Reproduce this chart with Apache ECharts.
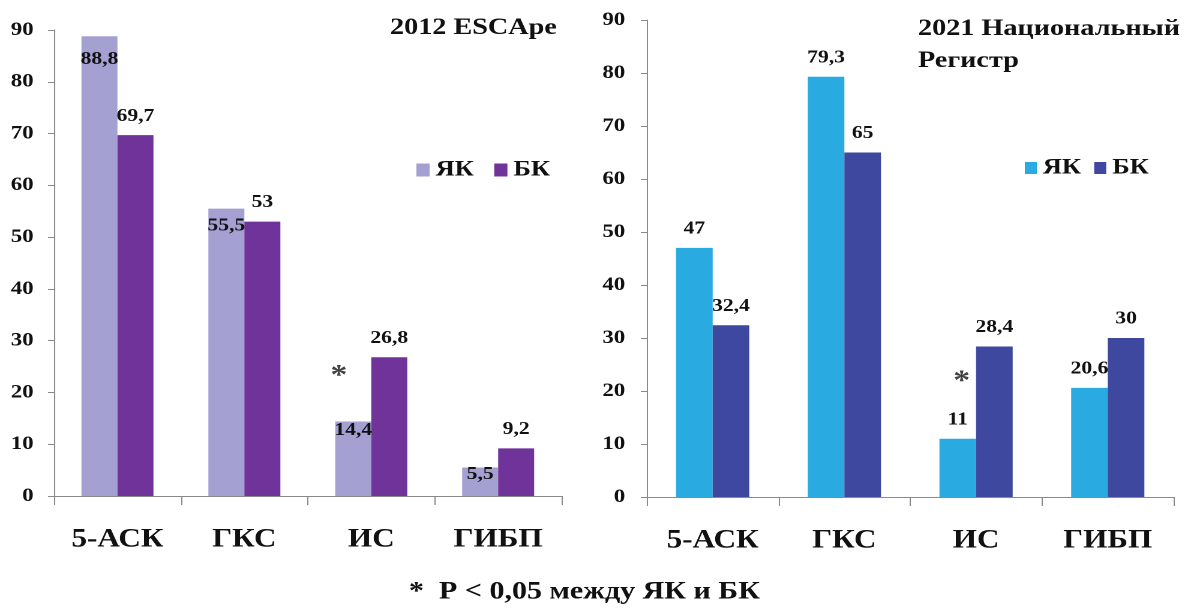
<!DOCTYPE html>
<html>
<head>
<meta charset="utf-8">
<script src="https://cdn.jsdelivr.net/npm/echarts@6/dist/echarts.min.js"></script>
<style>
  html, body { margin: 0; padding: 0; background: #fff; overflow: hidden; }
  /* the figure is drawn at a narrower base width and stretched horizontally */
  #chart { width: 990px; height: 608px; transform: scaleX(1.2); transform-origin: 0 0; }
</style>
</head>
<body>
<div id="chart"></div>
<script>
// Categories of therapy
const categories = ['5-АСК', 'ГКС', 'ИС', 'ГИБП'];

// 2012 ESCApe, %
const escapeUC = [88.8, 55.5, 14.4, 5.5];   // ЯК
const escapeCD = [69.7, 53, 26.8, 9.2];     // БК

// 2021 Национальный Регистр, %
const registryUC = [47, 79.3, 11, 20.6];    // ЯК
const registryCD = [32.4, 65, 28.4, 30];    // БК

// Value axis
const yMin = 0, yMax = 90, yStep = 10;

// Categories with P < 0,05 between ЯК and БК
const significant = ['ИС'];

// ---- styling ----
const FONT = 'Liberation Serif';
const INK = '#111111';
const AXIS = '#8a8a8a';
const COLORS = {
  uc2012: '#a5a0d2', cd2012: '#70339a',
  uc2021: '#29abe2', cd2021: '#3e489e'
};
// vertical drop of the labels printed inside the ЯК 2012 bars
const insideDrop = [14, 8, 0, -2];
// where the significance star sits (value units) and its shift from the category centre
const starLeft = { y: 24, dx: -27 };
const starRight = { y: 22.6, dx: -12 };

const fmt = v => String(v).replace('.', ',');

const labelFont = { fontFamily: FONT, fontWeight: 'bold', fontSize: 18, color: INK };

function xAxisFor(gridIndex) {
  return {
    type: 'category', gridIndex, data: categories,
    axisLine: { show: true, lineStyle: { color: AXIS, width: 1 } },
    axisTick: { show: true, length: 9, lineStyle: { color: AXIS } },
    axisLabel: { fontFamily: FONT, fontWeight: 'bold', fontSize: 26, color: INK, margin: 31 },
    splitLine: { show: false }
  };
}
function yAxisFor(gridIndex, margin) {
  return {
    type: 'value', gridIndex, min: yMin, max: yMax, interval: yStep,
    axisLine: { show: true, lineStyle: { color: AXIS, width: 1 } },
    axisTick: { show: true, length: 5, lineStyle: { color: AXIS } },
    axisLabel: { fontFamily: FONT, fontWeight: 'bold', fontSize: 19, color: INK, margin },
    splitLine: { show: false }
  };
}
function barsAbove(name, values, color, idx) {
  return {
    type: 'bar', name, xAxisIndex: idx, yAxisIndex: idx,
    data: values, barWidth: 30.5, barGap: '0%',
    itemStyle: { color },
    label: { show: true, position: 'top', distance: 10, formatter: p => fmt(p.value), ...labelFont }
  };
}
function starSeries(idx, star) {
  return {
    type: 'scatter', xAxisIndex: idx, yAxisIndex: idx, silent: true,
    symbol: 'circle', symbolSize: 1, itemStyle: { color: 'rgba(0,0,0,0)' },
    data: significant.map(c => [c, star.y]),
    label: {
      show: true, position: 'inside', formatter: '*', offset: [star.dx, 5],
      fontFamily: FONT, fontWeight: 'bold', fontSize: 28, color: INK
    }
  };
}

const leftUC = {
  type: 'bar', name: 'ЯК 2012', xAxisIndex: 0, yAxisIndex: 0,
  barWidth: 30, barGap: '0%',
  itemStyle: { color: COLORS.uc2012 },
  data: escapeUC.map((v, i) => ({ value: v, label: { offset: [0, insideDrop[i]] } })),
  label: { show: true, position: 'insideTop', distance: 0, formatter: p => fmt(p.value), ...labelFont }
};
const leftCD = barsAbove('БК 2012', escapeCD, COLORS.cd2012, 0);
leftCD.barWidth = 30;

const legendText = { fontFamily: FONT, fontWeight: 'bold', fontSize: 22, color: INK };

const option = {
  animation: false,
  backgroundColor: '#ffffff',
  title: [
    { text: '2012 ESCApe', right: 526, top: 16, padding: 0,
      textStyle: { fontFamily: FONT, fontWeight: 'bold', fontSize: 23.5, color: INK } },
    { text: '2021 Национальный\nРегистр', left: 765, top: 13, padding: 0,
      textStyle: { fontFamily: FONT, fontWeight: 'bold', fontSize: 23.5, lineHeight: 32, color: INK } }
  ],
  legend: [
    { data: ['ЯК 2012', 'БК 2012'], left: 347, top: 159, padding: 0,
      icon: 'rect', itemWidth: 11, itemHeight: 13, itemGap: 17,
      formatter: n => n.split(' ')[0], textStyle: legendText, selectedMode: false },
    { data: ['ЯК 2021', 'БК 2021'], left: 854, top: 157, padding: 0,
      icon: 'rect', itemWidth: 10, itemHeight: 12, itemGap: 11,
      formatter: n => n.split(' ')[0], textStyle: legendText, selectedMode: false }
  ],
  grid: [
    { left: 45, top: 30, width: 423, height: 466 },
    { left: 539, top: 20, width: 439, height: 477 }
  ],
  xAxis: [xAxisFor(0), xAxisFor(1)],
  yAxis: [yAxisFor(0, 17), yAxisFor(1, 18)],
  series: [
    leftUC,
    leftCD,
    barsAbove('ЯК 2021', registryUC, COLORS.uc2021, 1),
    barsAbove('БК 2021', registryCD, COLORS.cd2021, 1),
    starSeries(0, starLeft),
    starSeries(1, starRight)
  ],
  graphic: [
    { type: 'text', x: 487, y: 592,
      style: { text: '*  P < 0,05 между ЯК и БК', align: 'center', verticalAlign: 'middle',
        fontFamily: FONT, fontWeight: 'bold', fontSize: 25, fill: INK } }
  ]
};

const chart = echarts.init(document.getElementById('chart'), null, { renderer: 'canvas', devicePixelRatio: 2 });
chart.setOption(option);
</script>
</body>
</html>
